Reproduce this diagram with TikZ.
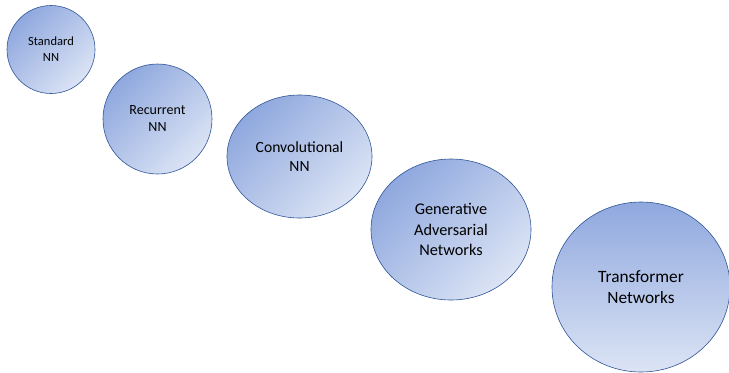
\documentclass[tikz,border=0pt]{standalone}
\usepackage{fontspec}
\setmainfont{Carlito}
\usepackage{xcolor}
\usetikzlibrary{shapes}
\definecolor{bubbledark}{RGB}{143,168,222}
\definecolor{bubblelight}{RGB}{220,228,245}
\definecolor{bubbleline}{RGB}{47,85,151}

\begin{document}
\begin{tikzpicture}[x=1bp,y=-1bp,
bubble/.style={ellipse,draw=bubbleline,line width=0.6pt,inner sep=0pt,
  top color=bubbledark,bottom color=bubblelight,shading angle=45,
  align=center,text=black}]
\useasboundingbox[fill=white](0,0) rectangle (729,372);
\node[bubble,minimum width=88bp,minimum height=88bp,font=\fontsize{12.5bp}{16bp}\selectfont](snn) at (51,49.5){Standard\\NN};
\node[bubble,minimum width=109bp,minimum height=110bp,font=\fontsize{14bp}{17bp}\selectfont](rnn) at (157.5,119){Recurrent\\NN};
\node[bubble,minimum width=145bp,minimum height=123bp,font=\fontsize{15.6bp}{19.5bp}\selectfont](cnn) at (299.5,156.5){Convolutional\\NN};
\node[bubble,minimum width=160bp,minimum height=141bp,font=\fontsize{16.3bp}{20.5bp}\selectfont](gan) at (451,229.5){Generative\\Adversarial\\Networks};
\node[bubble,shading angle=0,minimum width=178bp,minimum height=170bp,font=\fontsize{17.3bp}{21bp}\selectfont](tfn) at (641,287){Transformer\\Networks};
\end{tikzpicture}
\end{document}
